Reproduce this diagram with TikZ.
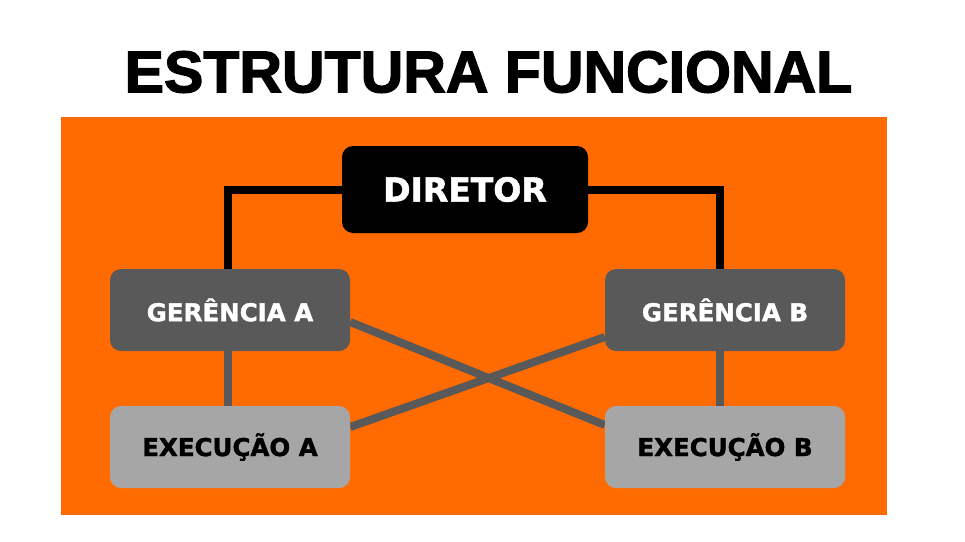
\documentclass[tikz,border=0pt]{standalone}
\usepackage{fontspec}
\setmainfont{DejaVu Sans}[BoldFeatures={FakeBold=1.6}]
\newfontfamily\titlefont[FakeBold=2.2]{Liberation Sans Bold}
\definecolor{orangebg}{HTML}{FF6B00}
\definecolor{darkgray}{HTML}{595959}
\definecolor{lightgray}{HTML}{A6A6A6}
\pgfdeclarelayer{bg}
\pgfsetlayers{bg,main}
\begin{document}
\begin{tikzpicture}[x=1pt,y=-1pt,
  box/.style={rounded corners=11pt, inner sep=0pt, font=\bfseries},
  topbox/.style={box, fill=black, text=white, minimum width=246pt, minimum height=87pt, font=\fontsize{33}{33}\selectfont\bfseries},
  midbox/.style={box, fill=darkgray, text=white, minimum width=240pt, minimum height=82pt, font=\fontsize{24.5}{24.5}\selectfont\bfseries},
  lowbox/.style={box, fill=lightgray, text=black, minimum width=240pt, minimum height=82pt, font=\fontsize{24.5}{24.5}\selectfont\bfseries},
  blackline/.style={draw=black, line width=8pt},
  grayline/.style={draw=darkgray, line width=8pt}]
\useasboundingbox (0,0) rectangle (965,541);
\node (title) at (488.5,72) {\titlefont\fontsize{59}{59}\selectfont ESTRUTURA FUNCIONAL};
\node[topbox] (dir) at (465,189.5) {DIRETOR};
\node[midbox] (ga) at (230,310) {GERÊNCIA A};
\node[midbox] (gb) at (725,310) {GERÊNCIA B};
\node[lowbox] (ea) at (230,447) {EXECUÇÃO A};
\node[lowbox] (eb) at (725,447) {EXECUÇÃO B};
\begin{pgfonlayer}{bg}
\fill[white] (0,0) rectangle (965,541);
\fill[orangebg] (61,117) rectangle (887,515);
\draw[blackline] (dir.west) -| ([xshift=-2pt]ga.north);
\draw[blackline] (dir.east) -| ([xshift=-5pt]gb.north);
\draw[grayline] ([xshift=-2pt]ga.south) -- ([xshift=-2pt]ea.north);
\draw[grayline] ([xshift=-5pt]gb.south) -- ([xshift=-5pt]eb.north);
\draw[grayline] ([yshift=-12pt]ga.east) -- ([yshift=22pt]eb.west);
\draw[grayline] ([yshift=20pt]ea.east) -- ([yshift=-27pt]gb.west);
\end{pgfonlayer}
\end{tikzpicture}
\end{document}
